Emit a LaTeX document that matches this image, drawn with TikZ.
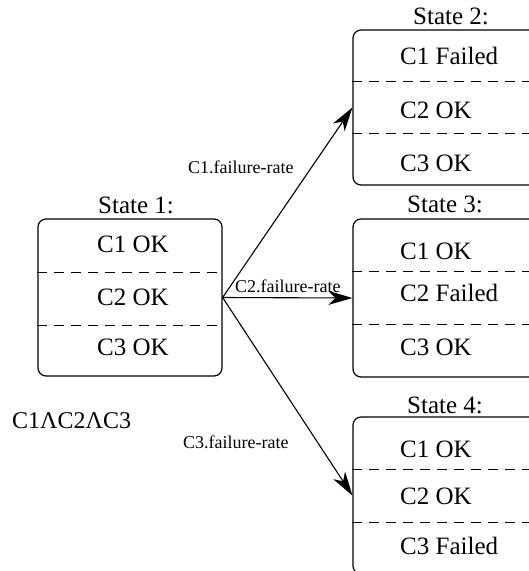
\documentclass[tikz,border=0pt]{standalone}
\usepackage{fontspec}
\setmainfont{Liberation Serif}
\newfontfamily\timesfont{Liberation Serif}
\usetikzlibrary{arrows.meta}
\begin{document}
\begin{tikzpicture}[x=1pt,y=-1pt,
  every node/.style={font=\timesfont},
  statebox/.style={draw,line width=1.2pt,rounded corners=8pt,inner sep=0pt,minimum width=190pt},
  divider/.style={line width=0.9pt,dash pattern=on 10pt off 7pt},
  rowtext/.style={anchor=west,inner sep=0pt,font=\timesfont\fontsize{25}{30}\selectfont},
  titletext/.style={anchor=west,inner sep=0pt,font=\timesfont\fontsize{25}{30}\selectfont},
  lbl/.style={anchor=west,inner sep=0pt,font=\timesfont\fontsize{18}{22}\selectfont},
  arr/.style={line width=1.1pt,-{Stealth[length=24pt,width=14pt,inset=7pt,fill=black]}}]
\useasboundingbox (0,0) rectangle (529,571);
\clip (0,0) rectangle (529,571);

% State 1
\node[statebox,minimum width=184pt,minimum height=157pt] (s1) at (130,297.5) {};
\draw[divider] (s1.west |- 0,272) coordinate (d1a) -- (s1.east |- 0,272) coordinate (d1b);
\draw[divider] (s1.west |- 0,325) coordinate (d1c) -- (s1.east |- 0,325) coordinate (d1d);
\node[titletext] (t1) at (98,205) {State 1:};
\node[rowtext] (s1r1) at (97,244) {C1 OK};
\node[rowtext] (s1r2) at (97,297) {C2 OK};
\node[rowtext] (s1r3) at (97,347.5) {C3 OK};

% State 2
\node[statebox,minimum height=155pt] (s2) at (448,107.5) {};
\draw[divider] (s2.west |- 0,81) coordinate (d2a) -- (s2.east |- 0,81) coordinate (d2b);
\draw[divider] (s2.west |- 0,133) coordinate (d2c) -- (s2.east |- 0,133) coordinate (d2d);
\node[titletext] (t2) at (413,16.5) {State 2:};
\node[rowtext] (s2r1) at (400,56) {C1 Failed};
\node[rowtext] (s2r2) at (400,110) {C2 OK};
\node[rowtext] (s2r3) at (400,163) {C3 OK};

% State 3
\node[statebox,minimum height=158pt] (s3) at (448,298) {};
\draw[divider] (s3.west |- 0,271) coordinate (d3a) -- (s3.east |- 0,271) coordinate (d3b);
\draw[divider] (s3.west |- 0,324) coordinate (d3c) -- (s3.east |- 0,324) coordinate (d3d);
\node[titletext] (t3) at (407,204) {State 3:};
\node[rowtext] (s3r1) at (400,251) {C1 OK};
\node[rowtext] (s3r2) at (400,293) {C2 Failed};
\node[rowtext] (s3r3) at (400,347.5) {C3 OK};

% State 4
\node[statebox,minimum height=157pt] (s4) at (448,495.5) {};
\draw[divider] (s4.west |- 0,469) coordinate (d4a) -- (s4.east |- 0,469) coordinate (d4b);
\draw[divider] (s4.west |- 0,522) coordinate (d4c) -- (s4.east |- 0,522) coordinate (d4d);
\node[titletext] (t4) at (407,405) {State 4:};
\node[rowtext] (s4r1) at (400,449) {C1 OK};
\node[rowtext] (s4r2) at (400,496) {C2 OK};
\node[rowtext] (s4r3) at (400,546) {C3 Failed};

% transitions
\draw[arr] (s1.east) -- (s2.west);
\draw[arr] (s1.east) -- (s3.west);
\draw[arr] (s1.east) -- (s4.west);
\node[lbl] (l1) at (188,167) {C1.failure-rate};
\node[lbl] (l2) at (235,286) {C2.failure-rate};
\node[lbl] (l3) at (183,442) {C3.failure-rate};

\node[anchor=west,inner sep=0pt,font=\timesfont\fontsize{24}{28}\selectfont] (expr) at (12,421) {C1ΛC2ΛC3};
\end{tikzpicture}
\end{document}
